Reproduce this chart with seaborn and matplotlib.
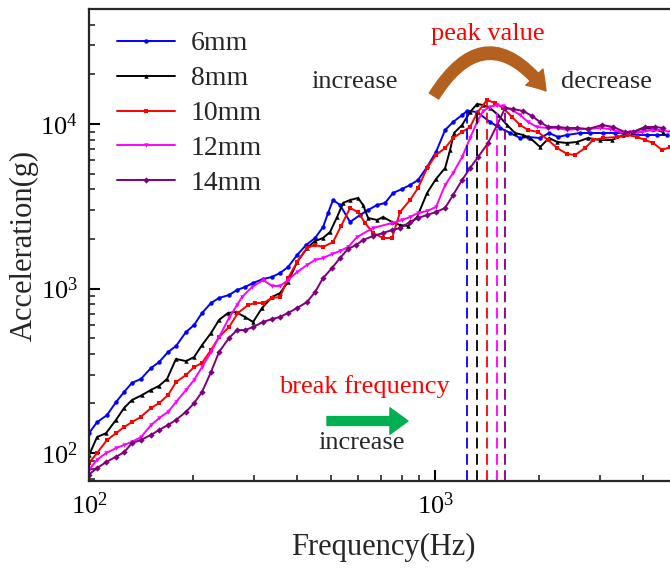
import numpy as np
import pandas as pd
import matplotlib
matplotlib.use("Agg")
import matplotlib.pyplot as plt
import seaborn as sns
from matplotlib.patches import FancyArrowPatch

# Acceleration response (g) versus frequency (Hz) for five gap widths
f_6mm = [100, 105.5, 112.7, 119.7, 126.3, 133.1, 141.3, 151.1, 159.4, 169.2,
         178.4, 190.7, 201.2, 212.1, 225.2, 237.5, 253.8, 267.7, 282.3, 297.9,
         318.4, 338.1, 356.5, 375.9, 399.3, 423.9, 450, 474.6, 490.6, 507.2,
         531.3, 567.9, 607.1, 640.3, 679.8, 716.9, 756.1, 802.7, 846.6, 892.9,
         948, 1006, 1069, 1127, 1197, 1237, 1322, 1442, 1541, 1647,
         1761, 1857, 2011, 2135, 2267, 2407, 2624, 2805, 3058, 3313,
         3588, 3834, 4098, 4380, 4682]
acc_6mm = [132, 154, 170, 204, 235, 267, 282, 329, 357, 411,
           447, 544, 600, 710, 816, 876, 913, 979, 1021, 1080,
           1142, 1175, 1243, 1351, 1598, 1838, 2028, 2365, 2877, 3451,
           3218, 2537, 2798, 3001, 3218, 3311, 3807, 4026, 4258, 4566,
           5477, 6757, 9194, 10280, 11340, 12000, 11830, 10280, 9455, 8817,
           8220, 8336, 8220, 8817, 8336, 8572, 8817, 8817, 8817, 8817,
           8817, 8572, 8572, 8572, 8572]

f_8mm = [100, 105.5, 112.0, 119.7, 126.3, 133.1, 142.3, 151.1, 159.4, 168.1,
         178.4, 190.7, 201.2, 212.1, 225.2, 237.5, 252.1, 265.9, 282.3, 297.9,
         316.2, 338.1, 356.5, 375.9, 399.3, 426.6, 450, 474.6, 497.2, 521.0,
         542.2, 567.9, 599.0, 619.3, 640.3, 679.8, 707.4, 751.1, 792.1, 835.5,
         887.2, 948, 1006, 1069, 1105, 1134, 1197, 1262, 1322, 1376,
         1442, 1521, 1614, 1702, 1796, 1882, 2011, 2135, 2252, 2407,
         2572, 2768, 2999, 3247, 3494, 3735, 3992, 4266, 4560]
acc_8mm = [97, 125, 132, 159, 188, 210, 225, 242, 256, 282,
           373, 362, 383, 453, 536, 644, 710, 720, 671, 626,
           761, 888, 939, 1095, 1449, 1763, 1944, 2028, 2206, 2721,
           3311, 3451, 3549, 3218, 2683, 2609, 2721, 2537, 2432, 2399,
           2721, 3807, 4631, 5401, 6950, 8817, 9861, 11830, 13230, 13050,
           12510, 11340, 9861, 8817, 8572, 8220, 7247, 8220, 7776, 7666,
           7776, 8220, 7991, 7991, 8572, 8941, 9455, 9324, 8941]

f_10mm = [100, 105.5, 112.7, 119.7, 126.3, 133.1, 141.3, 151.1, 159.4, 169.2,
          178.4, 190.7, 201.2, 212.1, 225.2, 237.5, 253.8, 269.5, 288.1, 301.8,
          318.4, 338.1, 356.5, 375.9, 399.3, 426.6, 450, 474.6, 507.2, 534.9,
          567.9, 599.0, 627.6, 662.0, 707.4, 751.1, 792.1, 846.6, 892.9, 948,
          1006, 1069, 1127, 1197, 1262, 1322, 1413, 1491, 1573, 1669,
          1761, 1857, 1984, 2121, 2252, 2407, 2538, 2713, 2861, 3058,
          3357, 3588, 3834, 4044, 4266, 4529, 4777]
acc_10mm = [87, 100, 120, 132, 144, 154, 166, 188, 201, 225,
            270, 298, 333, 353, 423, 507, 583, 710, 794, 816,
            816, 876, 888, 1158, 1449, 1763, 1838, 1788, 1917, 2399,
            3086, 2917, 2502, 2175, 2028, 2028, 2917, 3451, 4083, 5401,
            6480, 7146, 8220, 8941, 9589, 11660, 13990, 13420, 12510, 11030,
            9861, 9194, 8941, 7991, 7146, 6571, 6480, 7146, 7991, 8220,
            8336, 8572, 8336, 7991, 7666, 6950, 7247]

f_12mm = [100, 105.5, 112.0, 119.7, 126.3, 133.1, 141.3, 151.1, 159.4, 169.2,
          178.4, 190.7, 201.2, 212.1, 225.2, 237.5, 253.8, 267.7, 276.8, 295.9,
          318.4, 338.1, 356.5, 375.9, 399.3, 426.6, 450, 474.6, 503.8, 531.3,
          560.4, 595.0, 662.0, 751.1, 802.7, 846.6, 892.9, 948, 1006, 1069,
          1127, 1197, 1262, 1322, 1376, 1442, 1511, 1573, 1669, 1761,
          1857, 1971, 2121, 2252, 2407, 2572, 2768, 2999, 3204, 3425,
          3660, 3965, 4238, 4529, 4777]
acc_12mm = [79, 91, 100, 107, 112, 117, 125, 148, 163, 178,
            204, 242, 278, 333, 411, 507, 662, 794, 888, 1021,
            1126, 1036, 1036, 1126, 1260, 1390, 1491, 1532, 1621, 1690,
            1788, 2056, 2332, 2502, 2609, 2721, 2877, 2958, 3129, 4258,
            5036, 6300, 8220, 10280, 11990, 12700, 13050, 12800, 12160, 11340,
            10280, 9589, 9455, 9455, 9194, 9324, 9324, 9455, 9324, 8941,
            8941, 8941, 9194, 9194, 8941]

f_14mm = [100, 105.5, 112.0, 119.7, 126.3, 133.1, 141.3, 151.1, 159.4, 169.2,
          178.4, 190.7, 201.2, 212.1, 225.2, 237.5, 253.8, 267.7, 282.3, 297.9,
          318.4, 338.1, 356.5, 375.9, 399.3, 426.6, 450, 474.6, 503.8, 531.3,
          560.4, 591.0, 619.3, 662.0, 707.4, 751.1, 792.1, 846.6, 892.9, 948,
          1006, 1069, 1127, 1197, 1262, 1331, 1423, 1511, 1593, 1680,
          1796, 1907, 2011, 2121, 2267, 2407, 2572, 2768, 3038, 3269,
          3540, 3735, 4044, 4322, 4560]
acc_14mm = [74, 81, 88, 95, 101, 115, 120, 129, 138, 148,
            159, 178, 201, 235, 311, 411, 500, 559, 559, 583,
            626, 653, 671, 710, 761, 828, 952, 1158, 1332, 1532,
            1739, 1838, 1971, 2085, 2175, 2267, 2332, 2537, 2683, 2798,
            2917, 3086, 3702, 4566, 5401, 6300, 7666, 9861, 12510, 12340,
            11990, 11180, 10280, 9589, 9589, 9455, 9455, 9324, 9861, 9589,
            8941, 8941, 9589, 9589, 9455]

labels = ["6mm", "8mm", "10mm", "12mm", "14mm"]
freqs = [f_6mm, f_8mm, f_10mm, f_12mm, f_14mm]
accs = [acc_6mm, acc_8mm, acc_10mm, acc_12mm, acc_14mm]
colors = ["#0000FF", "#000000", "#FF0000", "#FF00FF", "#7F007F"]
markers = ["o", "^", "s", "v", "D"]

df = pd.concat(
    [pd.DataFrame({"Frequency": f, "Acceleration": a, "Gap": lab})
     for lab, f, a in zip(labels, freqs, accs)],
    ignore_index=True,
)

sns.set_style("ticks")
plt.rcParams["font.family"] = ["Liberation Serif", "DejaVu Serif"]
plt.rcParams["mathtext.fontset"] = "custom"
plt.rcParams["mathtext.rm"] = "Liberation Serif"
plt.rcParams["mathtext.it"] = "Liberation Serif:italic"
plt.rcParams["mathtext.bf"] = "Liberation Serif:bold"

W, H = 670, 569
fig = plt.figure(figsize=(W / 100, H / 100), dpi=100)
ax = fig.add_axes([89 / W, 88 / H, 588 / W, 472 / H])
ax.set_xscale("log")
ax.set_yscale("log")

ymin, ymax = 67.6, 50000
sns.lineplot(
    data=df, x="Frequency", y="Acceleration", hue="Gap", style="Gap",
    palette=dict(zip(labels, colors)), markers=dict(zip(labels, markers)),
    dashes=False, estimator=None, sort=False, lw=1.4, markersize=3.2,
    markeredgewidth=0, ax=ax,
)

# break-frequency guide lines dropped from each peak
for f, a, c in zip(freqs, accs, colors):
    i = int(np.argmax(a))
    ax.vlines(f[i], ymin, a[i], colors=c, linestyles=(0, (6, 3)), lw=1.3)

ax.set_xlim(100, 5000)
ax.set_ylim(ymin, ymax)

for s in ax.spines.values():
    s.set_linewidth(1.6)
ax.tick_params(which="major", direction="in", length=8, width=1.5,
               labelsize=19, pad=8, colors="black")
ax.tick_params(which="minor", direction="in", length=4.5, width=1.2)
ax.set_xlabel("Frequency(Hz)", fontsize=22, labelpad=10)
ax.set_ylabel("Acceleration(g)", fontsize=22, labelpad=1)

handles, labs = ax.get_legend_handles_labels()
ax.legend(handles, labs, loc="upper left", bbox_to_anchor=(117 / W, 1 - 31 / H),
          bbox_transform=fig.transFigure, frameon=False, fontsize=20,
          handlelength=2.1, handletextpad=0.55, labelspacing=0.34,
          borderpad=0, borderaxespad=0)

def fx(x):
    return x / W

def fy(y):
    return 1 - y / H

fig.text(fx(355), fy(88), "increase", ha="center", va="baseline", fontsize=19)
fig.text(fx(606), fy(88), "decrease", ha="center", va="baseline", fontsize=19)
fig.text(fx(488), fy(40), "peak value", ha="center", va="baseline",
         fontsize=19, color="#FF0000")
fig.text(fx(364), fy(393), "break frequency", ha="center", va="baseline",
         fontsize=19, color="#FF0000")
fig.text(fx(362), fy(449), "increase", ha="center", va="baseline", fontsize=19)

arc = FancyArrowPatch(
    posA=(fx(434), fy(96)), posB=(fx(546), fy(91)),
    connectionstyle="arc3,rad=-0.72",
    arrowstyle="simple,head_length=0.65,head_width=0.85,tail_width=0.4",
    mutation_scale=20, color="#B4601E", transform=fig.transFigure,
    shrinkA=0, shrinkB=0,
)
fig.patches.append(arc)

green = FancyArrowPatch(
    posA=(fx(327), fy(421)), posB=(fx(408), fy(421)),
    arrowstyle="simple,head_length=0.65,head_width=0.95,tail_width=0.32",
    mutation_scale=20, color="#00B050", transform=fig.transFigure,
    shrinkA=0, shrinkB=0,
)
fig.patches.append(green)

fig.savefig("out.png", dpi=100)
